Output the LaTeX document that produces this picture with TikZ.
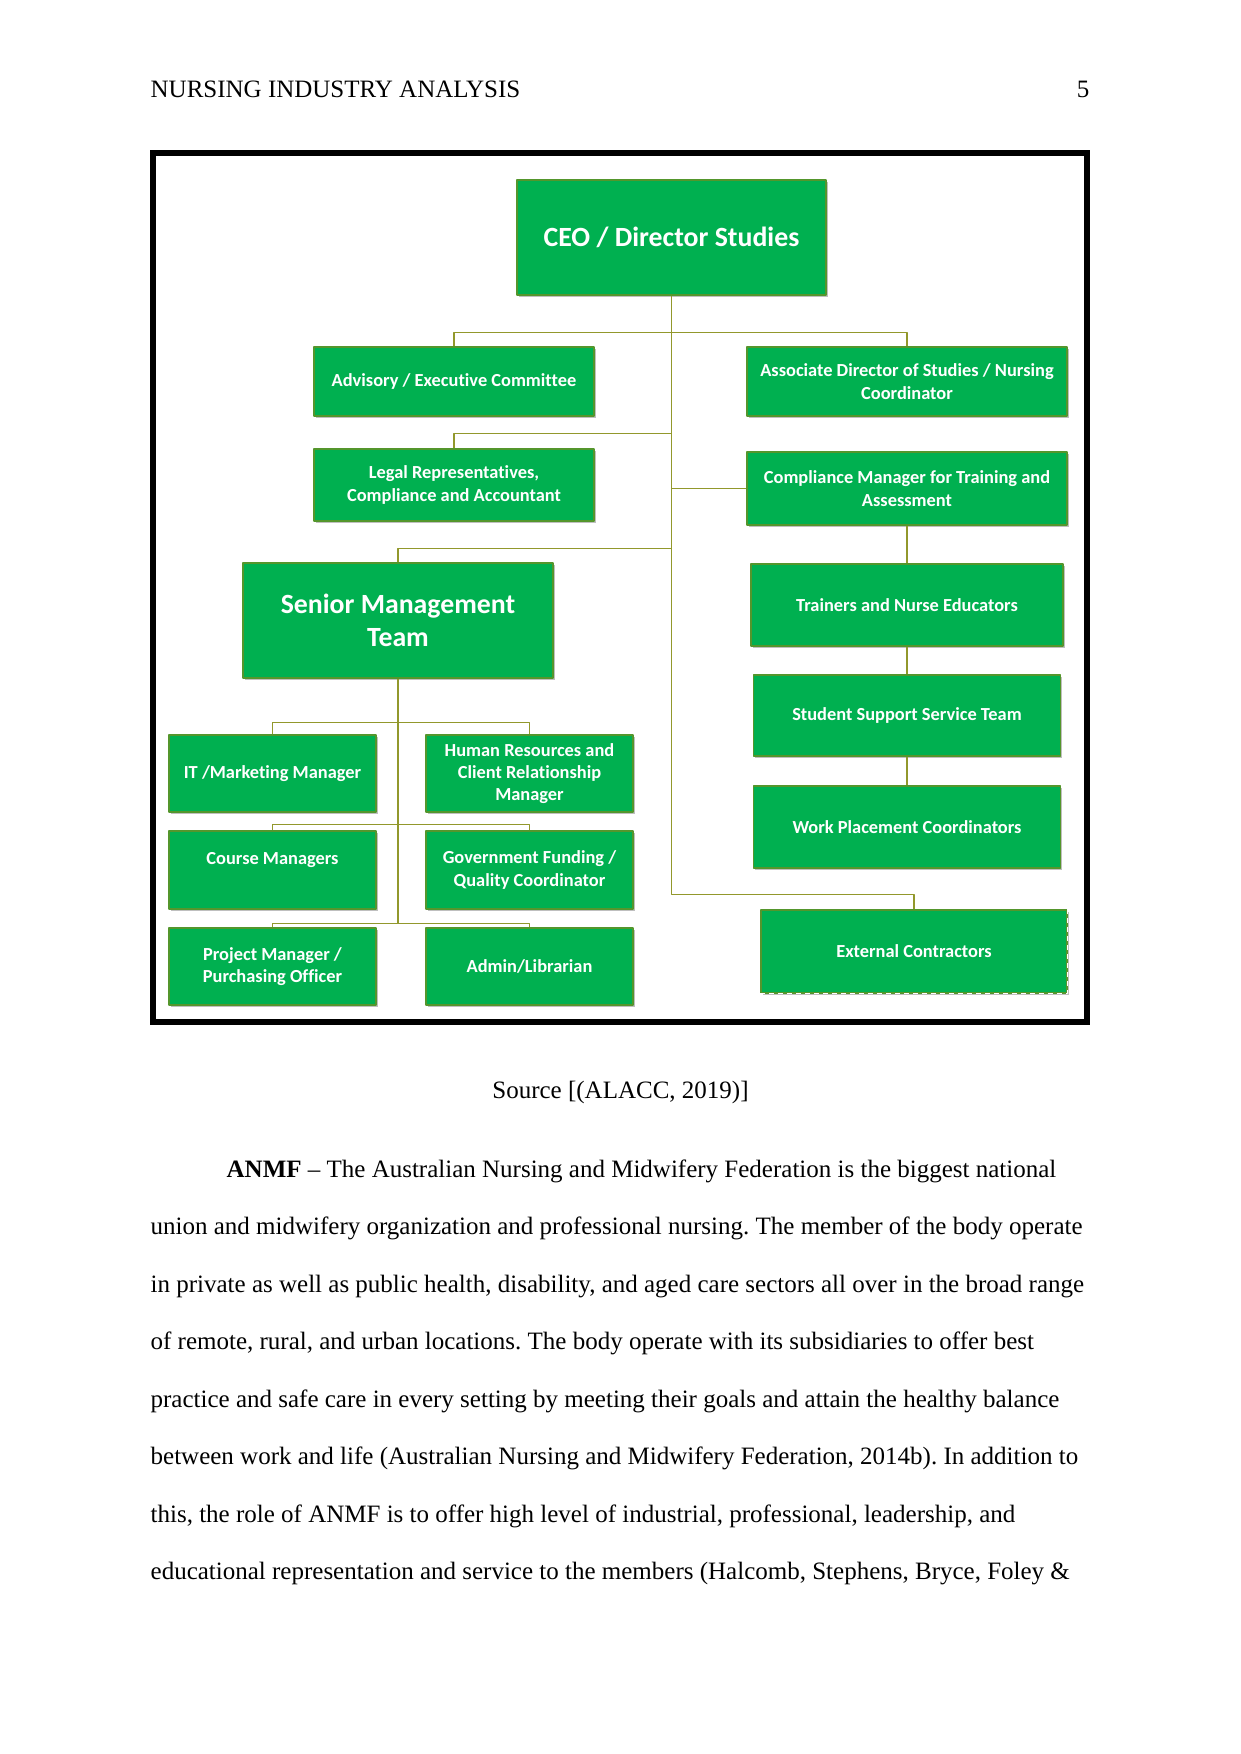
\documentclass[tikz,border=0pt]{standalone}
\usepackage{fontspec}
\setmainfont{Liberation Serif}
\newfontfamily\chartfont[Ligatures=NoCommon]{Carlito}
\usetikzlibrary{shadows}
\definecolor{boxgreen}{RGB}{0,176,80}
\definecolor{boxedge}{RGB}{84,150,44}
\definecolor{linkolive}{RGB}{146,152,44}
\frenchspacing

\begin{document}
\begin{tikzpicture}[x=1pt, y=-1pt, line width=1.3pt, line join=round,
  box/.style={fill=boxgreen, draw=boxedge, line width=1.2pt, text=white, align=center, inner sep=0pt,
    font=\chartfont\bfseries\fontsize{18.4}{22.4}\selectfont,
    drop shadow={shadow xshift=1.5pt, shadow yshift=-1.5pt, fill=black!25, opacity=1}},
  bigbox/.style={box, font=\chartfont\bfseries\fontsize{27.8}{33}\selectfont},
  smallbox/.style={box, minimum width=207pt, minimum height=77pt},
  sidebox/.style={box, minimum width=309pt, minimum height=82pt},
  link/.style={draw=linkolive, line width=1.3pt},
  textline/.style={anchor=base west, inner sep=0pt, font=\fontsize{25}{57.5}\selectfont}]
  \useasboundingbox (0,0) rectangle (1241,1754);
  % Kopfzeile
  \node[textline] (header) at (150,97) {NURSING INDUSTRY ANALYSIS};
  \node[textline, anchor=base east] (pagenum) at (1090,97) {5};
  % Rahmen
  \draw[line width=6pt, line join=miter] (153,153) rectangle (1087,1022);
  % Leitung und Stabsstellen
  \node[bigbox, minimum width=309pt, minimum height=115pt] (ceo) at (671.5,237.5) {CEO / Director Studies};
  \node[box, minimum width=280pt, minimum height=69pt] (advisory) at (454,381.5) {Advisory / Executive Committee};
  \node[box, minimum width=320pt, minimum height=69pt] (assocdir) at (907,381.5) {Associate Director of Studies / Nursing\\Coordinator};
  \node[box, minimum width=280pt, minimum height=72pt] (legal) at (454,485) {Legal Representatives,\\Compliance and Accountant};
  \node[box, minimum width=320pt, minimum height=73pt] (compliance) at (907,488.5) {Compliance Manager for Training and\\Assessment};
  % rechte Spalte
  \node[sidebox, minimum width=312pt] (trainers) at (907,605) {Trainers and Nurse Educators};
  \node[sidebox, minimum width=307pt, minimum height=81pt] (support) at (907,715.5) {Student Support Service Team};
  \node[sidebox, minimum width=307pt] (placement) at (907,827) {Work Placement Coordinators};
  \node[sidebox, minimum width=306pt, minimum height=83pt, drop shadow={opacity=0}] (external) at (914,951.5) {External Contractors};
  \draw[white, line width=1.2pt, dash pattern=on 5pt off 4pt] (external.south west) -- (external.south east) -- (external.north east);
  % Senior Management und linke Gruppe
  \node[bigbox, minimum width=310pt, minimum height=115pt] (senior) at (398,620.5) {Senior Management\\Team};
  \node[smallbox] (itmgr) at (272.5,773.5) {IT /Marketing Manager};
  \node[smallbox] (hrmgr) at (529.5,773.5) {Human Resources and\\Client Relationship\\Manager};
  \node[smallbox, minimum height=78pt] (course) at (272.5,870) {Course Managers\\\mbox{}};
  \node[smallbox, minimum height=78pt] (govfund) at (529.5,870) {Government Funding /\\Quality Coordinator};
  \node[smallbox] (project) at (272.5,966.5) {Project Manager /\\Purchasing Officer};
  \node[smallbox] (admin) at (529.5,966.5) {Admin/Librarian};
  % Verbindungen
  \draw[link] (ceo.south) |- ([yshift=15pt]external.north) -- (external.north);
  \draw[link] (advisory.north) -- ++(0,-14) -| (assocdir.north);
  \draw[link] (legal.north) |- ([yshift=15pt]ceo.south |- legal.north);
  \draw[link] (compliance.west) -- (ceo.south |- compliance.west);
  \draw[link] (senior.north) |- ([yshift=14pt]ceo.south |- senior.north);
  \draw[link] (compliance.south) -- (trainers.north);
  \draw[link] (trainers.south) -- (support.north);
  \draw[link] (support.south) -- (placement.north);
  \draw[link] (senior.south) -- ([yshift=4pt]senior.south |- project.north);
  \draw[link] (itmgr.north) -- ++(0,-12) -| (hrmgr.north);
  \draw[link] (course.north) -- ++(0,-6) -| (govfund.north);
  \draw[link] (project.north) -- ++(0,-4) -| (admin.north);
  % Quelle und Fliesstext
  \node[textline, anchor=base] (source) at (620.5,1098) {Source [(ALACC, 2019)]};
  \node[textline] (line1) at (226,1177) {\textbf{ANMF} – The Australian Nursing and Midwifery Federation is the biggest national};
  \node[textline] (line2) at (150,1234.5) {union and midwifery organization and professional nursing. The member of the body operate};
  \node[textline] (line3) at (150,1292) {in private as well as public health, disability, and aged care sectors all over in the broad range};
  \node[textline] (line4) at (150,1349.5) {of remote, rural, and urban locations. The body operate with its subsidiaries to offer best};
  \node[textline] (line5) at (150,1407) {practice and safe care in every setting by meeting their goals and attain the healthy balance};
  \node[textline] (line6) at (150,1464.5) {between work and life (Australian Nursing and Midwifery Federation, 2014b). In addition to};
  \node[textline] (line7) at (150,1522) {this, the role of ANMF is to offer high level of industrial, professional, leadership, and};
  \node[textline] (line8) at (150,1579.5) {educational representation and service to the members (Halcomb, Stephens, Bryce, Foley \&};
\end{tikzpicture}
\end{document}
